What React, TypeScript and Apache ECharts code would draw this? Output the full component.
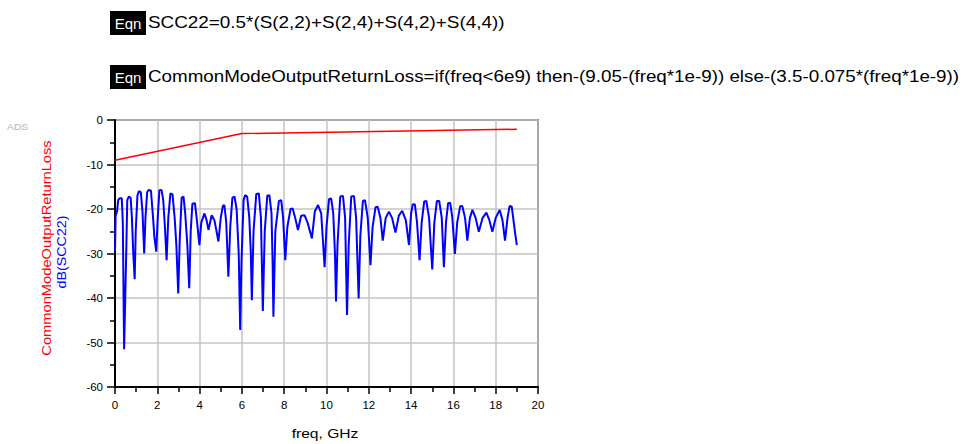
import React, { useEffect, useRef } from "react";
import * as echarts from "echarts";

const xTicks = [0, 2, 4, 6, 8, 10, 12, 14, 16, 18, 20];
const yTicks = [0, -10, -20, -30, -40, -50, -60];

// CommonModeOutputReturnLoss (red) [freq GHz, dB]
const redLine: [number, number][] = [
  [0, -9.05],
  [6, -3.05],
  [19, -2.08],
];

// dB(SCC22) (blue) [freq GHz, dB]
const sccFreq = [
  0.0, 0.03, 0.1, 0.15, 0.22, 0.32, 0.37, 0.43, 0.48, 0.53, 0.58, 0.65, 0.74, 0.8, 0.86, 0.93, 0.98,
  1.06, 1.13, 1.22, 1.3, 1.38, 1.44, 1.52, 1.6, 1.7, 1.8, 1.86, 1.95, 2.02, 2.1, 2.2, 2.28, 2.36,
  2.44, 2.52, 2.62, 2.72, 2.82, 2.9, 2.99, 3.06, 3.15, 3.24, 3.32, 3.42, 3.51, 3.58, 3.66, 3.78,
  3.86, 3.99, 4.08, 4.23, 4.33, 4.42, 4.57, 4.7, 4.89, 5.0, 5.1, 5.17, 5.26, 5.36, 5.45, 5.55, 5.65,
  5.75, 5.85, 5.92, 5.98, 6.08, 6.15, 6.25, 6.35, 6.42, 6.47, 6.55, 6.68, 6.8, 6.9, 6.99, 7.08, 7.2,
  7.3, 7.4, 7.45, 7.49, 7.58, 7.75, 7.86, 7.95, 8.05, 8.15, 8.3, 8.4, 8.52, 8.65, 8.8, 8.96, 9.1,
  9.31, 9.45, 9.6, 9.75, 9.91, 10.0, 10.12, 10.22, 10.32, 10.4, 10.45, 10.52, 10.65, 10.78, 10.88,
  10.97, 11.05, 11.17, 11.3, 11.4, 11.52, 11.6, 11.72, 11.82, 11.95, 12.08, 12.18, 12.32, 12.42,
  12.55, 12.66, 12.8, 12.95, 13.1, 13.26, 13.42, 13.58, 13.75, 13.9, 14.0, 14.08, 14.18, 14.28,
  14.4, 14.5, 14.62, 14.72, 14.85, 15.0, 15.1, 15.22, 15.33, 15.45, 15.55, 15.65, 15.75, 15.85,
  15.95, 16.07, 16.18, 16.32, 16.42, 16.55, 16.66, 16.78, 16.9, 17.05, 17.2, 17.38, 17.56, 17.7,
  17.84, 18.0, 18.19, 18.32, 18.44, 18.56, 18.66, 18.76, 18.92, 19.0,
];
const sccDb = [
  -29.5, -21.5, -20.5, -18.0, -17.6, -17.6, -23.0, -51.5, -41.0, -30.0, -18.0, -17.2, -17.5, -22.0,
  -29.6, -35.8, -25.0, -17.0, -16.0, -16.2, -20.6, -30.0, -22.0, -16.2, -15.7, -15.9, -22.0, -26.2,
  -29.6, -22.0, -15.8, -15.7, -18.0, -24.0, -31.5, -22.0, -16.5, -16.7, -22.0, -28.0, -39.0, -27.0,
  -17.5, -17.2, -21.0, -28.0, -37.8, -25.0, -18.8, -18.7, -22.0, -28.1, -23.0, -21.0, -22.5, -24.7,
  -21.4, -22.5, -27.3, -22.0, -19.3, -19.1, -23.0, -35.2, -24.0, -17.5, -17.2, -20.0, -30.0, -47.2,
  -32.0, -18.0, -16.9, -17.2, -22.0, -29.6, -40.5, -25.0, -16.6, -16.5, -22.0, -42.9, -25.0, -17.0,
  -16.9, -21.0, -31.5, -44.2, -25.0, -18.2, -18.0, -22.0, -31.5, -24.0, -20.0, -19.9, -22.0, -24.7,
  -21.5, -21.4, -23.0, -26.6, -20.5, -19.1, -21.0, -33.1, -24.0, -17.8, -17.6, -21.0, -30.0, -40.8,
  -28.0, -17.2, -17.1, -22.0, -43.8, -28.0, -17.2, -17.1, -22.0, -40.1, -26.0, -18.2, -18.0, -22.0,
  -32.6, -24.0, -19.6, -19.5, -22.0, -27.1, -22.0, -20.6, -22.0, -25.3, -21.5, -20.4, -22.5, -28.1,
  -21.0, -18.9, -19.0, -23.0, -31.5, -23.0, -18.3, -18.2, -22.0, -33.6, -23.0, -18.2, -18.2, -22.0,
  -33.1, -23.0, -18.7, -18.6, -22.0, -30.1, -23.0, -19.4, -19.3, -22.0, -27.1, -22.0, -20.2, -22.0,
  -25.1, -22.0, -20.8, -22.5, -25.1, -22.0, -20.2, -22.5, -27.1, -22.0, -19.3, -19.5, -25.5, -28.1,
];

const eqn1 = "SCC22=0.5*(S(2,2)+S(2,4)+S(4,2)+S(4,4))";
const eqn2 =
  "CommonModeOutputReturnLoss=if(freq<6e9) then-(9.05-(freq*1e-9)) else-(3.5-0.075*(freq*1e-9))";
const yNameRed = "CommonModeOutputReturnLoss";
const yNameBlue = "dB(SCC22)";
const xName = "freq, GHz";

const FONT = "'Liberation Sans', Arial, sans-serif";

export default function App() {
  const ref = useRef<HTMLDivElement>(null);
  useEffect(() => {
    document.body.style.margin = "0";
    const chart = echarts.init(ref.current!, undefined, { renderer: "svg" });
    const blue = sccFreq.map((f, i) => [f, sccDb[i]]);
    chart.setOption({
      animation: false,
      backgroundColor: "#fff",
      textStyle: { fontFamily: FONT },
      grid: {
        left: 115,
        top: 120,
        right: 425,
        bottom: 57,
        show: true,
        borderColor: "#222",
        borderWidth: 1.5,
        backgroundColor: "transparent",
      },
      xAxis: {
        type: "value",
        min: xTicks[0],
        max: xTicks[xTicks.length - 1],
        interval: 2,
        axisLine: { show: true, onZero: false, lineStyle: { color: "#000", width: 2 } },
        axisTick: { show: true, inside: false, length: 7, lineStyle: { color: "#000", width: 1.5 } },
        minorTick: { show: true, splitNumber: 2, length: 5, lineStyle: { color: "#000", width: 1.5 } },
        axisLabel: { fontSize: 11.5, color: "#000", margin: 12, fontFamily: FONT },
        splitLine: { show: true, lineStyle: { color: "#c4c4c4", width: 1.5 } },
      },
      yAxis: {
        type: "value",
        min: yTicks[yTicks.length - 1],
        max: yTicks[0],
        interval: 10,
        axisLine: { show: true, onZero: false, lineStyle: { color: "#000", width: 2 } },
        axisTick: { show: true, inside: false, length: 8, lineStyle: { color: "#000", width: 1.5 } },
        minorTick: { show: true, splitNumber: 2, length: 5, lineStyle: { color: "#000", width: 1.5 } },
        axisLabel: { fontSize: 11.5, color: "#000", margin: 12, fontFamily: FONT },
        splitLine: { show: true, lineStyle: { color: "#c4c4c4", width: 1.5 } },
      },
      series: [
        {
          name: yNameBlue,
          type: "line",
          data: blue,
          showSymbol: false,
          lineStyle: { color: "#0000ff", width: 2 },
          z: 3,
        },
        {
          name: yNameRed,
          type: "line",
          data: redLine,
          showSymbol: false,
          lineStyle: { color: "#ff0000", width: 1.5 },
          z: 4,
        },
      ],
      graphic: [
        {
          type: "text",
          left: 7,
          top: 122,
          style: { text: "ADS", fontSize: 9, fill: "#b4b4b4", fontFamily: FONT },
          scaleX: 1.15,
        },
        { type: "rect", shape: { x: 110, y: 11, width: 36, height: 24 }, style: { fill: "#000" } },
        {
          type: "text",
          x: 128,
          y: 23.5,
          style: { text: "Eqn", fontSize: 15, fill: "#fff", align: "center", verticalAlign: "middle", fontFamily: FONT },
        },
        {
          type: "text",
          x: 148,
          y: 23,
          scaleX: 1.18,
          style: { text: eqn1, fontSize: 16, fill: "#000", align: "left", verticalAlign: "middle", fontFamily: FONT },
        },
        { type: "rect", shape: { x: 110, y: 65, width: 36, height: 24 }, style: { fill: "#000" } },
        {
          type: "text",
          x: 128,
          y: 77.5,
          style: { text: "Eqn", fontSize: 15, fill: "#fff", align: "center", verticalAlign: "middle", fontFamily: FONT },
        },
        {
          type: "text",
          x: 148,
          y: 77,
          scaleX: 1.175,
          style: { text: eqn2, fontSize: 16, fill: "#000", align: "left", verticalAlign: "middle", fontFamily: FONT },
        },
        {
          type: "text",
          x: 46,
          y: 248,
          rotation: Math.PI / 2,
          scaleX: 1.13,
          style: { text: yNameRed, fontSize: 13, fill: "#ff0000", align: "center", verticalAlign: "middle", fontFamily: FONT },
        },
        {
          type: "text",
          x: 62,
          y: 252,
          rotation: Math.PI / 2,
          scaleX: 1.1,
          style: { text: yNameBlue, fontSize: 13, fill: "#0000ff", align: "center", verticalAlign: "middle", fontFamily: FONT },
        },
        {
          type: "text",
          x: 325,
          y: 433,
          scaleX: 1.2,
          style: { text: xName, fontSize: 13, fill: "#000", align: "center", verticalAlign: "middle", fontFamily: FONT },
        },
      ],
    });
    return () => chart.dispose();
  }, []);
  return (
    <div
      ref={ref}
      style={{ position: "absolute", left: 0, top: 0, width: 963, height: 444, background: "#fff" }}
    />
  );
}
